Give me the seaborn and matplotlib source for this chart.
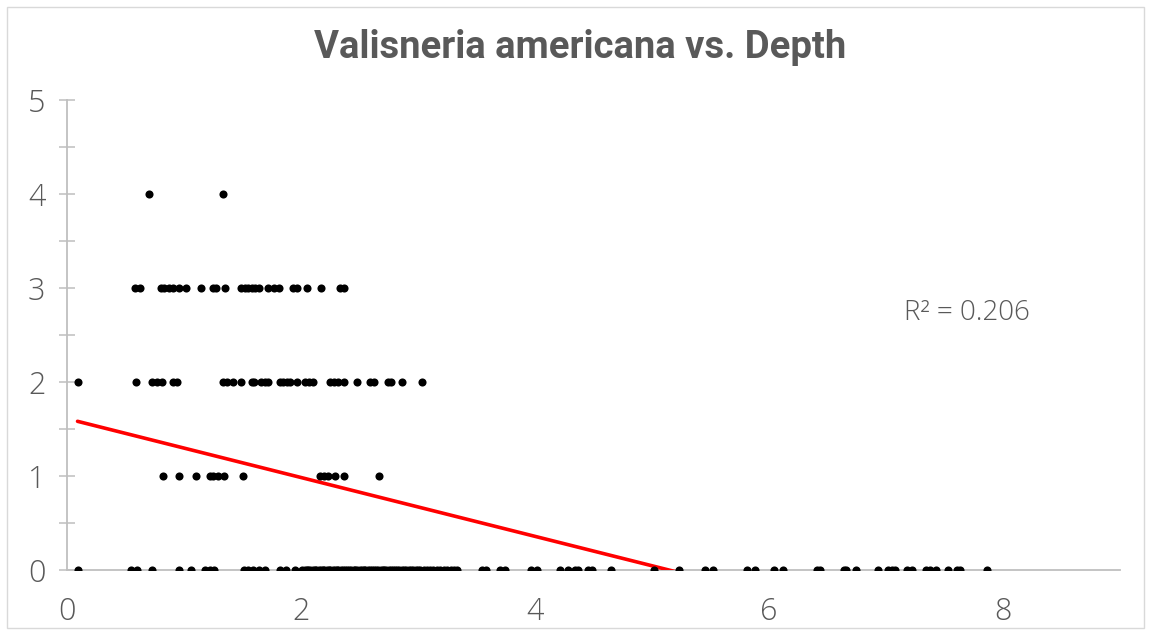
import numpy as np
import pandas as pd
import matplotlib
matplotlib.use("Agg")
import matplotlib.pyplot as plt
import seaborn as sns
from matplotlib.patches import Rectangle

# Depth (x) of each sampling point, grouped by Valisneria americana score (y)
depth_score4 = [0.70, 1.33]
depth_score3 = [0.58, 0.62, 0.80, 0.83, 0.87, 0.91, 0.96, 1.02, 1.145, 1.25, 1.27,
                1.35, 1.49, 1.52, 1.55, 1.58, 1.61, 1.64, 1.72, 1.77, 1.81, 1.93,
                1.97, 2.05, 2.17, 2.33, 2.37]
depth_score2 = [0.09, 0.59, 0.73, 0.77, 0.81, 0.91, 0.94, 1.33, 1.37, 1.42, 1.49,
                1.58, 1.60, 1.66, 1.69, 1.72, 1.82, 1.85, 1.88, 1.91, 1.97, 2.03,
                2.07, 2.10, 2.25, 2.28, 2.32, 2.37, 2.48, 2.59, 2.62, 2.74, 2.77,
                2.86, 3.03]
depth_score1 = [0.82, 0.96, 1.10, 1.22, 1.25, 1.29, 1.34, 1.50, 2.16, 2.20, 2.23,
                2.29, 2.37, 2.67]
depth_score0 = [0.09, 0.55, 0.60, 0.73, 0.96, 1.06, 1.18, 1.22, 1.26, 1.51, 1.55,
                1.59, 1.64, 1.69, 1.82, 1.87, 1.95,
                2.01, 2.03, 2.05, 2.06, 2.08, 2.10, 2.12, 2.13, 2.15, 2.17, 2.19,
                2.20, 2.22, 2.24, 2.25, 2.27, 2.29, 2.31, 2.32, 2.34, 2.36, 2.38,
                2.39, 2.41, 2.43, 2.45, 2.46, 2.48, 2.50, 2.52, 2.54, 2.55, 2.57,
                2.59, 2.61, 2.62, 2.64, 2.66, 2.68, 2.70, 2.71, 2.73, 2.75, 2.77,
                2.79, 2.80, 2.82, 2.84, 2.86, 2.88, 2.90, 2.92, 2.94, 2.96, 2.98,
                3.00, 3.02, 3.05, 3.08, 3.10, 3.13, 3.16, 3.19, 3.22, 3.25, 3.28,
                3.31, 3.33,
                3.55, 3.58, 3.70, 3.74, 3.97, 4.02, 4.21, 4.28, 4.34, 4.37, 4.45,
                4.49, 4.65, 5.02, 5.23, 5.45, 5.52, 5.81, 5.88, 6.04, 6.12, 6.41,
                6.44, 6.64, 6.66, 6.74, 6.93, 7.02, 7.05, 7.08, 7.18, 7.22, 7.34,
                7.38, 7.43, 7.53, 7.61, 7.63, 7.86]

# Linear trendline coefficients and its reported fit
trend_intercept = 1.61
trend_slope = -0.313
r_squared = 0.206

title = "Valisneria americana vs. Depth"
x_ticks = [0, 2, 4, 6, 8]
y_ticks = [0, 1, 2, 3, 4, 5]

groups = {4: depth_score4, 3: depth_score3, 2: depth_score2, 1: depth_score1, 0: depth_score0}
df = pd.DataFrame(
    [(d, s) for s, depths in groups.items() for d in depths],
    columns=["Depth", "Score"],
)
x_span = np.array([df["Depth"].min(), df["Depth"].max()])
trend = pd.DataFrame({"Depth": x_span, "Fit": trend_intercept + trend_slope * x_span})

sns.set_theme(style="white")
plt.rcParams["font.family"] = ["Open Sans", "DejaVu Sans"]
text_grey = "#595959"
axis_grey = "#bfbfbf"

fig = plt.figure(figsize=(11.51, 6.35), dpi=100)
ax = fig.add_axes([67 / 1151, 1 - 570 / 635, (1120 - 67) / 1151, (570 - 100) / 635])

sns.lineplot(data=trend, x="Depth", y="Fit", ax=ax, color="#ff0000", linewidth=2.6,
             zorder=3)
sns.scatterplot(data=df, x="Depth", y="Score", ax=ax, color="black", s=34,
                linewidth=0, zorder=4)

ax.set_xlim(0, 9)
ax.set_ylim(0, 5)
ax.set_xticks(x_ticks)
ax.set_yticks(y_ticks)
ax.set_yticks(np.arange(0.5, 5, 1), minor=True)
ax.set_xlabel("")
ax.set_ylabel("")

for side in ["top", "right"]:
    ax.spines[side].set_visible(False)
for side in ["left", "bottom"]:
    ax.spines[side].set_color(axis_grey)
    ax.spines[side].set_linewidth(1.3)

ax.tick_params(axis="y", which="both", direction="inout", length=11, width=1.1,
               color=axis_grey, left=True)
ax.tick_params(axis="y", which="major", labelsize=22, labelcolor=text_grey, pad=10)
ax.tick_params(axis="x", which="both", length=0, labelsize=22, labelcolor=text_grey,
               pad=19)
for lab in ax.get_xticklabels() + ax.get_yticklabels():
    lab.set_fontweight("light")

ax.text(7.15, 2.73, f"R² = {r_squared:.3f}", fontsize=20, color=text_grey,
        fontweight="light", va="center", ha="left")

fig.text(580 / 1151, 1 - 47 / 635, title, ha="center", va="center", fontsize=27.5,
         fontweight="bold", color=text_grey, family=["Roboto", "DejaVu Sans"])

fig.patches.append(Rectangle((7 / 1151, 7 / 635), 1 - 14 / 1151, 1 - 14 / 635,
                             transform=fig.transFigure, fill=False,
                             edgecolor="#d9d9d9", linewidth=1.0))

fig.savefig("out.png", dpi=100)
